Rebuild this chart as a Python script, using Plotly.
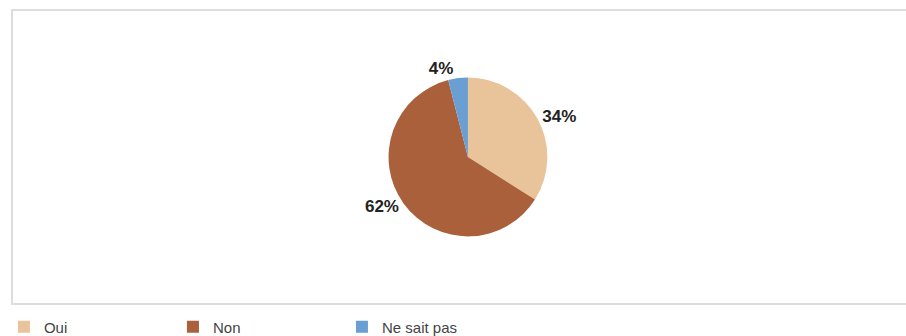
import plotly.graph_objects as go

labels = ["Oui", "Non", "Ne sait pas"]
values = [34, 62, 4]
colors = ["#E9C39A", "#A9603B", "#6A9FD4"]

W, H = 906, 336
ml, mr, mt, mb = 12, 0, 10, 32

fig = go.Figure()
fig.add_trace(go.Pie(
    labels=labels, values=values, sort=False, direction="clockwise", rotation=0,
    marker=dict(colors=colors, line=dict(width=0)),
    texttemplate="<b>%{percent:.0%}</b>", textposition="outside",
    textfont=dict(family="Liberation Sans, Arial", size=17, color="#222222"),
    domain=dict(x=[0.35, 0.67], y=[0.23, 0.77]),
    hoverinfo="label+percent", showlegend=True,
))

fig.add_shape(type="rect", xref="paper", yref="paper", x0=0, x1=1.05, y0=0, y1=1,
              line=dict(color="#dddddd", width=2), fillcolor="rgba(0,0,0,0)")

fig.update_layout(
    width=W, height=H,
    margin=dict(l=ml, r=mr, t=mt, b=mb, autoexpand=False),
    paper_bgcolor="white", plot_bgcolor="white",
    font=dict(family="Liberation Sans, Arial", size=15, color="#444444"),
    legend=dict(orientation="h", x=-0.009, xanchor="left", y=-0.078, yanchor="middle",
                entrywidth=124, entrywidthmode="pixels",
                font=dict(size=15, color="#444444"), itemsizing="constant",
                bgcolor="rgba(0,0,0,0)"),
)

fig.write_html("out.html")
